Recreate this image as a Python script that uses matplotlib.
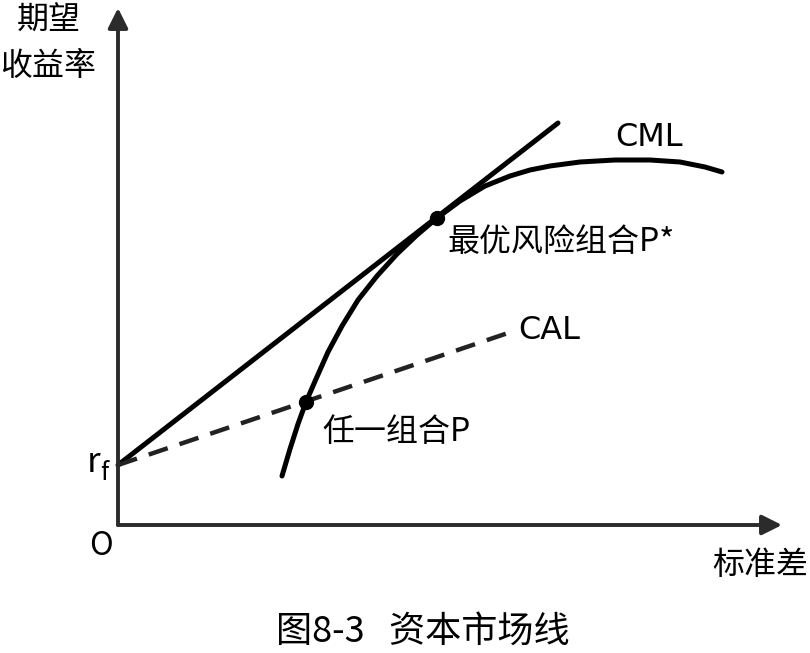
import matplotlib.pyplot as plt

plt.rcParams['font.family'] = ['Noto Sans CJK SC', 'DejaVu Sans']

# schematic values (arbitrary units): x = standard deviation, y = expected return
rf = 0.60

# efficient frontier curve
curve_x = [1.64, 1.72, 1.80, 1.88, 1.98, 2.10, 2.24, 2.40, 2.59, 2.79, 2.99,
           3.19, 3.42, 3.67, 3.92, 4.12, 4.32, 4.62, 4.97, 5.32, 5.62, 5.87,
           6.04]
curve_y = [0.49, 0.76, 1.01, 1.23, 1.46, 1.73, 1.99, 2.25, 2.49, 2.71, 2.90,
           3.07, 3.24, 3.39, 3.49, 3.55, 3.59, 3.63, 3.65, 3.65, 3.63, 3.58,
           3.53]

# CML (tangent line) and CAL (dashed)
cml_x = [0.0, 4.40]
cml_y = [rf, 4.02]
cal_x = [0.0, 3.90]
cal_y = [rf, 1.92]

# portfolios
p_star = (3.19, 3.07)
p_any = (1.88, 1.23)

fig = plt.figure(figsize=(8.1, 6.53), dpi=100)
ax = fig.add_axes([0, 0, 1, 1])
ax.set_xlim(-1.18, 6.92)
ax.set_ylim(-1.28, 5.25)
ax.axis('off')

# axes with arrows
ax.annotate('', xy=(0, 5.17), xytext=(0, 0),
            arrowprops=dict(arrowstyle='-|>', color='#2b2b2b', lw=2.8,
                            mutation_scale=30, shrinkA=0, shrinkB=0))
ax.annotate('', xy=(6.64, 0), xytext=(0, 0),
            arrowprops=dict(arrowstyle='-|>', color='#2b2b2b', lw=2.8,
                            mutation_scale=30, shrinkA=0, shrinkB=0))

ax.plot(curve_x, curve_y, color='black', lw=3.6, solid_capstyle='round',
        solid_joinstyle='round')
ax.plot(cml_x, cml_y, color='black', lw=3.6, solid_capstyle='round')
ax.plot(cal_x, cal_y, color='#222222', lw=3.2, dashes=(4.5, 2.8))

ax.plot(*p_star, 'o', color='black', markersize=10)
ax.plot(*p_any, 'o', color='black', markersize=10)

fs = 23
ax.text(-0.69, 5.04, '期望', fontsize=fs, ha='center', va='center')
ax.text(-0.70, 4.59, '收益率', fontsize=fs, ha='center', va='center')
ax.text(6.42, -0.40, '标准差', fontsize=fs, ha='center', va='center')
ax.text(-0.17, -0.21, 'O', fontsize=fs, ha='center', va='center')
ax.text(-0.24, 0.63, 'r', fontsize=25, ha='center', va='center')
ax.text(-0.14, 0.52, 'f', fontsize=18, ha='center', va='center')

ax.text(4.97, 3.88, 'CML', fontsize=fs, ha='left', va='center',
        family='DejaVu Sans')
ax.text(4.00, 1.95, 'CAL', fontsize=fs, ha='left', va='center',
        family='DejaVu Sans')
ax.text(3.29, 2.83, '最优风险组合P*', fontsize=fs, ha='left', va='center')
ax.text(2.04, 0.93, '任一组合P', fontsize=fs, ha='left', va='center')

ax.text(3.05, -1.07, '图8-3   资本市场线', fontsize=26, ha='center', va='center')

fig.savefig('out.png', dpi=100)
